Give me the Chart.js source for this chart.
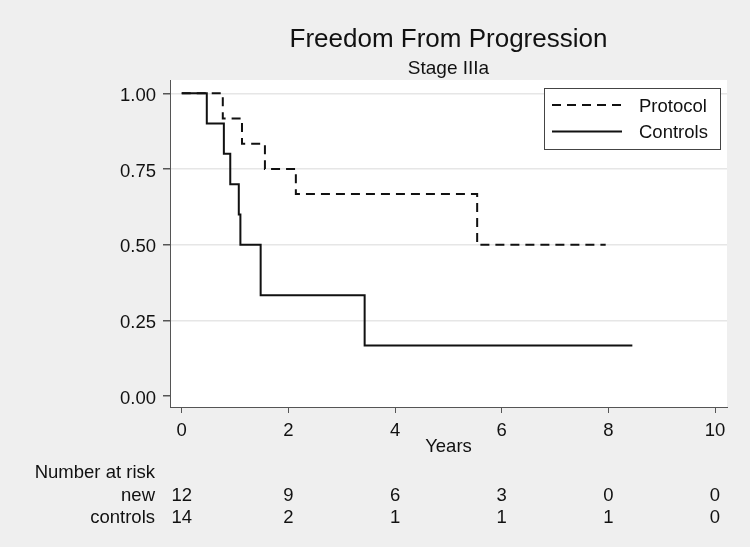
<!DOCTYPE html>
<html>
<head>
<meta charset="utf-8">
<script src="https://cdn.jsdelivr.net/npm/chart.js@4/dist/chart.umd.min.js"></script>
<style>
  html, body { margin: 0; padding: 0; background: #efefef; }
  #wrap { width: 750px; height: 547px; }
</style>
</head>
<body>
<div id="wrap"><canvas id="myChart" width="750" height="547"></canvas></div>
<script>
// Kaplan-Meier steps
const protocolTimes = [0, 0.77, 1.13, 1.56, 2.14, 5.54, 7.95];
const protocolSurv  = [1, 0.917, 0.833, 0.75, 0.667, 0.5, 0.5];
const controlTimes  = [0, 0.47, 0.79, 0.91, 1.07, 1.10, 1.48, 3.43, 8.45];
const controlSurv   = [1, 0.9, 0.8, 0.7, 0.6, 0.5, 0.333, 0.167, 0.167];

const xTicks = [0, 2, 4, 6, 8, 10];
const yTicks = [0, 0.25, 0.5, 0.75, 1];

// number at risk table
const riskRows   = ['new', 'controls'];
const riskNew      = [12, 9, 6, 3, 0, 0];
const riskControls = [14, 2, 1, 1, 1, 0];

const seriesNames = ['Protocol', 'Controls'];

const FONT = '"Liberation Sans", Arial, sans-serif';
Chart.defaults.font.family = FONT;
Chart.defaults.color = '#111';

function toPoints(xs, ys) {
    return xs.map((x, i) => ({x: x, y: ys[i]}));
}

// backgrounds: gray page, white plot region
const bgPlugin = {
    id: 'bg',
    beforeDraw(chart) {
        const {ctx, chartArea: a} = chart;
        ctx.save();
        ctx.fillStyle = '#efefef';
        ctx.fillRect(0, 0, chart.width, chart.height);
        ctx.fillStyle = '#ffffff';
        ctx.fillRect(a.left, a.top, a.right - a.left, a.bottom - a.top);
        ctx.restore();
    }
};

// boxed legend in the top right corner of the plot
const boxLegend = {
    id: 'boxLegend',
    afterDatasetsDraw(chart) {
        const {ctx, chartArea: a} = chart;
        const w = 176, h = 61;
        const left = a.right - 7 - w, top = a.top + 8;
        ctx.save();
        ctx.fillStyle = '#fff';
        ctx.fillRect(left, top, w, h);
        ctx.strokeStyle = '#444';
        ctx.lineWidth = 1;
        ctx.strokeRect(left + 0.5, top + 0.5, w, h);
        chart.data.datasets.forEach((ds, i) => {
            const y = top + 17 + i * 26.5;
            ctx.beginPath();
            ctx.setLineDash(ds.borderDash || []);
            ctx.strokeStyle = ds.borderColor;
            ctx.lineWidth = ds.borderWidth;
            ctx.moveTo(left + 8, y);
            ctx.lineTo(left + 78, y);
            ctx.stroke();
            ctx.setLineDash([]);
            ctx.fillStyle = '#111';
            ctx.font = '18.5px ' + FONT;
            ctx.textAlign = 'left';
            ctx.textBaseline = 'middle';
            ctx.fillText(ds.label, left + 95, y + 1.5);
        });
        ctx.restore();
    }
};

// number at risk table under the x axis
const riskTable = {
    id: 'riskTable',
    afterDraw(chart) {
        const {ctx, chartArea: a} = chart;
        const xs = chart.scales.x;
        const labelRight = a.left - 15;
        ctx.save();
        ctx.font = '18.5px ' + FONT;
        ctx.fillStyle = '#111';
        ctx.textBaseline = 'middle';
        ctx.textAlign = 'right';
        ctx.fillText('Number at risk', labelRight, a.bottom + 66);
        [riskNew, riskControls].forEach((row, r) => {
            const y = a.bottom + 89 + r * 22;
            ctx.textAlign = 'right';
            ctx.fillText(riskRows[r], labelRight, y);
            ctx.textAlign = 'center';
            row.forEach((n, i) => {
                ctx.fillText(String(n), xs.getPixelForValue(xTicks[i]), y);
            });
        });
        ctx.restore();
    }
};

var ctx = document.getElementById('myChart').getContext('2d');
var chart = new Chart(ctx, {
    type: 'line',
    data: {
        datasets: [{
            label: seriesNames[0],
            data: toPoints(protocolTimes, protocolSurv),
            borderColor: '#111',
            borderWidth: 2,
            borderDash: [9, 6],
            stepped: true,
            pointRadius: 0,
            fill: false
        }, {
            label: seriesNames[1],
            data: toPoints(controlTimes, controlSurv),
            borderColor: '#111',
            borderWidth: 2,
            stepped: true,
            pointRadius: 0,
            fill: false
        }]
    },
    options: {
        responsive: false,
        animation: false,
        devicePixelRatio: 1,
        layout: { padding: { top: 0, left: 0, right: 23, bottom: 89 } },
        plugins: {
            legend: { display: false },
            tooltip: { enabled: false },
            title: {
                display: true,
                text: 'Freedom From Progression',
                fullSize: false,
                color: '#111',
                font: { size: 26, weight: 'normal' },
                padding: { top: 24, bottom: 0 }
            },
            subtitle: {
                display: true,
                text: 'Stage IIIa',
                fullSize: false,
                color: '#111',
                font: { size: 19, weight: 'normal' },
                padding: { top: 2, bottom: 0 }
            }
        },
        scales: {
            x: {
                type: 'linear',
                min: -0.22,
                max: 10.225,
                afterBuildTicks: (s) => { s.ticks = xTicks.map(v => ({value: v})); },
                afterFit: (s) => { s.height = 51; },
                grid: { drawOnChartArea: false, tickLength: 6, tickColor: '#555' },
                border: { color: '#555', width: 1 },
                ticks: { font: { size: 18.5 }, color: '#111', padding: 7, maxRotation: 0 },
                title: { display: true, text: 'Years', color: '#111', font: { size: 18.5 }, padding: 0 }
            },
            y: {
                min: -0.0363,
                max: 1.044,
                afterBuildTicks: (s) => { s.ticks = yTicks.map(v => ({value: v})); },
                afterFit: (s) => { s.width = 170; },
                grid: {
                    color: (c) => c.tick && c.tick.value === 0 ? 'rgba(0,0,0,0)' : '#e6e6e6',
                    lineWidth: 1.5,
                    tickLength: 7,
                    tickColor: '#555'
                },
                border: { color: '#555', width: 1 },
                ticks: {
                    font: { size: 18.5 },
                    color: '#111',
                    padding: 7,
                    labelOffset: 2.5,
                    callback: (v) => Number(v).toFixed(2)
                }
            }
        }
    },
    plugins: [bgPlugin, boxLegend, riskTable]
});
</script>
</body>
</html>
